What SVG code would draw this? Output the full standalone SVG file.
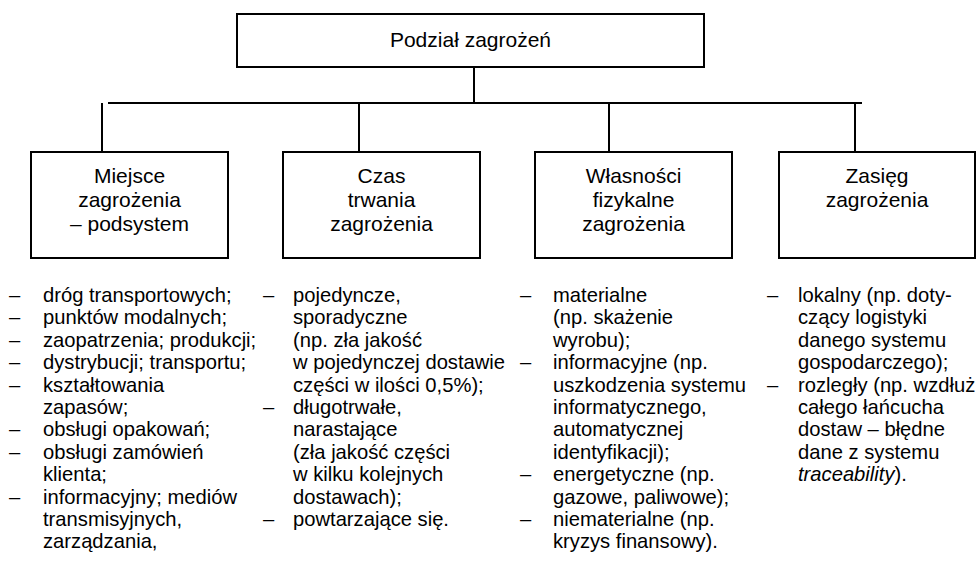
<svg xmlns="http://www.w3.org/2000/svg" width="977" height="566" viewBox="0 0 977 566">
<style>
text{font-family:"Liberation Sans",Arial,sans-serif;fill:#000}
.box{fill:#fff;stroke:#000;stroke-width:2}
.ln{stroke:#000;stroke-width:2;fill:none}
.t{font-size:21px;text-anchor:middle}
.l{font-size:20.2px}
</style>
<rect width="977" height="566" fill="#fff"/>
<g id="connectors">
<line class="ln" x1="474" y1="66" x2="474" y2="103"/>
<line class="ln" x1="108" y1="103" x2="862" y2="103"/>
<line class="ln" x1="102" y1="103" x2="102" y2="152"/>
<line class="ln" x1="359" y1="103" x2="359" y2="152"/>
<line class="ln" x1="609" y1="103" x2="609" y2="152"/>
<line class="ln" x1="855" y1="103" x2="855" y2="152"/>
</g>
<g id="root">
<rect class="box" x="237" y="14" width="467" height="53"/>
<text class="t" x="470.5" y="47">Podział zagrożeń</text>
</g>
<g id="miejsce">
<rect class="box" x="31" y="152" width="197" height="106"/>
<text class="t" x="129.5" y="183">Miejsce</text>
<text class="t" x="129.5" y="207">zagrożenia</text>
<text class="t" x="129.5" y="231">– podsystem</text>
</g>
<g id="czas">
<rect class="box" x="283" y="152" width="197" height="106"/>
<text class="t" x="381.5" y="183">Czas</text>
<text class="t" x="381.5" y="207">trwania</text>
<text class="t" x="381.5" y="231">zagrożenia</text>
</g>
<g id="wlasnosci">
<rect class="box" x="535" y="152" width="197" height="106"/>
<text class="t" x="633.5" y="183">Własności</text>
<text class="t" x="633.5" y="207">fizykalne</text>
<text class="t" x="633.5" y="231">zagrożenia</text>
</g>
<g id="zasieg">
<rect class="box" x="779" y="152" width="196" height="106"/>
<text class="t" x="877" y="183">Zasięg</text>
<text class="t" x="877" y="207">zagrożenia</text>
</g>
<g id="list1">
<text class="l" x="9" y="302">–</text>
<text class="l" x="9" y="324.4">–</text>
<text class="l" x="9" y="346.8">–</text>
<text class="l" x="9" y="369.2">–</text>
<text class="l" x="9" y="391.6">–</text>
<text class="l" x="9" y="436.4">–</text>
<text class="l" x="9" y="458.8">–</text>
<text class="l" x="9" y="503.6">–</text>
<text class="l" x="43" y="302">dróg transportowych;</text>
<text class="l" x="43" y="324.4">punktów modalnych;</text>
<text class="l" x="43" y="346.8">zaopatrzenia; produkcji;</text>
<text class="l" x="43" y="369.2">dystrybucji; transportu;</text>
<text class="l" x="43" y="391.6">kształtowania</text>
<text class="l" x="43" y="414">zapasów;</text>
<text class="l" x="43" y="436.4">obsługi opakowań;</text>
<text class="l" x="43" y="458.8">obsługi zamówień</text>
<text class="l" x="43" y="481.2">klienta;</text>
<text class="l" x="43" y="503.6">informacyjny; mediów</text>
<text class="l" x="43" y="526">transmisyjnych,</text>
<text class="l" x="43" y="548.4">zarządzania,</text>
</g>
<g id="list2">
<text class="l" x="263" y="302">–</text>
<text class="l" x="263" y="414">–</text>
<text class="l" x="263" y="526">–</text>
<text class="l" x="293" y="302">pojedyncze,</text>
<text class="l" x="293" y="324.4">sporadyczne</text>
<text class="l" x="293" y="346.8">(np. zła jakość</text>
<text class="l" x="293" y="369.2">w pojedynczej dostawie</text>
<text class="l" x="293" y="391.6">części w ilości 0,5%);</text>
<text class="l" x="293" y="414">długotrwałe,</text>
<text class="l" x="293" y="436.4">narastające</text>
<text class="l" x="293" y="458.8">(zła jakość części</text>
<text class="l" x="293" y="481.2">w kilku kolejnych</text>
<text class="l" x="293" y="503.6">dostawach);</text>
<text class="l" x="293" y="526">powtarzające się.</text>
</g>
<g id="list3">
<text class="l" x="520" y="302">–</text>
<text class="l" x="520" y="369.2">–</text>
<text class="l" x="520" y="481.2">–</text>
<text class="l" x="520" y="526">–</text>
<text class="l" x="553" y="302">materialne</text>
<text class="l" x="553" y="324.4">(np. skażenie</text>
<text class="l" x="553" y="346.8">wyrobu);</text>
<text class="l" x="553" y="369.2">informacyjne (np.</text>
<text class="l" x="553" y="391.6">uszkodzenia systemu</text>
<text class="l" x="553" y="414">informatycznego,</text>
<text class="l" x="553" y="436.4">automatycznej</text>
<text class="l" x="553" y="458.8">identyfikacji);</text>
<text class="l" x="553" y="481.2">energetyczne (np.</text>
<text class="l" x="553" y="503.6">gazowe, paliwowe);</text>
<text class="l" x="553" y="526">niematerialne (np.</text>
<text class="l" x="553" y="548.4">kryzys finansowy).</text>
</g>
<g id="list4">
<text class="l" x="767" y="302">–</text>
<text class="l" x="767" y="391.6">–</text>
<text class="l" x="798" y="302">lokalny (np. doty-</text>
<text class="l" x="798" y="324.4">czący logistyki</text>
<text class="l" x="798" y="346.8">danego systemu</text>
<text class="l" x="798" y="369.2">gospodarczego);</text>
<text class="l" x="798" y="391.6">rozległy (np. wzdłuż</text>
<text class="l" x="798" y="414">całego łańcucha</text>
<text class="l" x="798" y="436.4">dostaw – błędne</text>
<text class="l" x="798" y="458.8">dane z systemu</text>
<text class="l" x="798" y="481.2"><tspan font-style="italic">traceability</tspan>).</text>
</g>
</svg>
